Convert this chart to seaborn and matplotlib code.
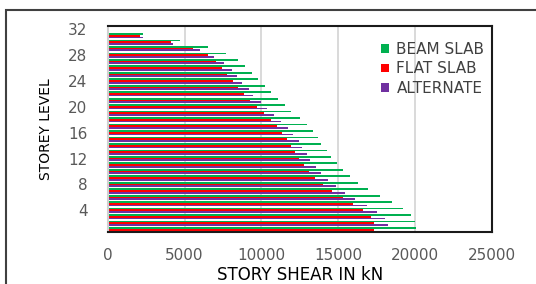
import matplotlib
matplotlib.use("Agg")
import matplotlib.pyplot as plt
from matplotlib.patches import Patch, Rectangle
import pandas as pd
import seaborn as sns

# story shear per storey level (level 1 at the bottom)
levels = list(range(1, 32))
beam_slab = [20065, 19998, 19753, 19219, 18484, 17727, 16970, 16280, 15767, 15300,
             14943, 14520, 14253, 13919, 13696, 13340, 12961, 12516, 11959, 11536,
             11068, 10623, 10222, 9799, 9398, 8953, 8485, 7683, 6525, 4721, 2294]
flat_slab = [17326, 17326, 17126, 16636, 15990, 15300, 14609, 14030, 13496, 13117,
             12805, 12449, 12204, 11959, 11692, 11380, 11046, 10623, 10155, 9710,
             9264, 8886, 8485, 8128, 7750, 7438, 7060, 6525, 5568, 4120, 2071]
alternate = [18261, 18261, 18039, 17504, 16880, 16123, 15455, 14854, 14342, 13874,
             13562, 13184, 12961, 12649, 12449, 12070, 11759, 11291, 10846, 10378,
             9955, 9487, 9175, 8730, 8418, 8062, 7572, 6904, 6013, 4276, 2294]

series = ["BEAM SLAB", "FLAT SLAB", "ALTERNATE"]
colors = {"BEAM SLAB": "#00B050", "FLAT SLAB": "#FF0000", "ALTERNATE": "#7030A0"}

df = pd.concat([
    pd.DataFrame({"level": levels, "shear": beam_slab, "type": "BEAM SLAB"}),
    pd.DataFrame({"level": levels, "shear": flat_slab, "type": "FLAT SLAB"}),
    pd.DataFrame({"level": levels, "shear": alternate, "type": "ALTERNATE"}),
])

sns.set_style("white")
plt.rcParams["font.family"] = ["DejaVu Sans"]

fig = plt.figure(figsize=(5.36, 2.84), dpi=100)
ax = fig.add_axes([107.7 / 536, 1 - 232 / 284, 384 / 536, 206 / 284])

# lowest bar in each group is drawn first -> reverse so green sits on top
sns.barplot(data=df, x="shear", y="level", hue="type", orient="h",
            native_scale=True, hue_order=series[::-1], palette=colors,
            saturation=1, errorbar=None, linewidth=0, width=0.8,
            legend=False, ax=ax)

ax.set_xlim(0, 25000)
ax.set_ylim(0.65, 32.5)
ax.set_xticks(range(0, 25001, 5000))
ax.set_yticks(range(4, 33, 4))
ax.tick_params(axis="x", length=0, pad=11.5, labelsize=11, labelcolor="#595959")
ax.tick_params(axis="y", length=0, pad=14.5, labelsize=11, labelcolor="#595959")

ax.grid(axis="x", color="#D9D9D9", lw=1.4)
ax.grid(axis="y", visible=False)
ax.set_axisbelow(True)

for side in ["top", "right", "bottom"]:
    ax.spines[side].set_color("#1a1a1a")
    ax.spines[side].set_linewidth(1.5)
ax.spines["left"].set_color("#D0D0D0")
ax.spines["left"].set_linewidth(1.5)

ax.set_xlabel("STORY SHEAR IN kN", fontsize=12, color="black")
ax.set_ylabel("STOREY LEVEL", fontsize=10, color="black")
ax.xaxis.set_label_coords(0.5, -0.165)
ax.yaxis.set_label_coords(-0.142, 0.5)

handles = [Patch(facecolor=colors[s], edgecolor="none") for s in series]
ax.legend(handles, series, loc="upper left", bbox_to_anchor=(0.712, 0.922),
          frameon=False, fontsize=11, labelcolor="#404040",
          handlelength=0.5, handleheight=0.5, handletextpad=0.5,
          labelspacing=0.28, borderpad=0, borderaxespad=0)

fig.add_artist(Rectangle((6 / 536, -0.2), 2, 1.2 - 10 / 284,
                         transform=fig.transFigure, fill=False,
                         edgecolor="#404040", lw=1.5, clip_on=False))

fig.savefig("out.png", dpi=100)
